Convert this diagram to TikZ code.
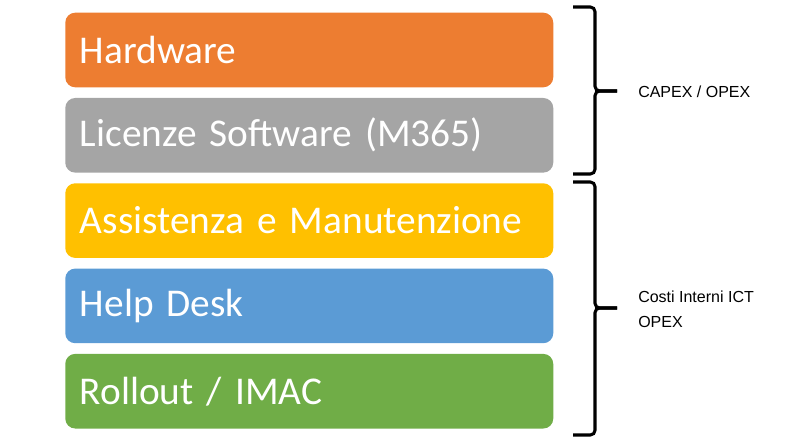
\documentclass[tikz,border=0pt]{standalone}
\usepackage{fontspec}
\setmainfont{Carlito}
\newfontfamily\labelfont{Liberation Sans}
\usepackage{tikz}

\definecolor{hwcol}{HTML}{ED7D31}
\definecolor{licol}{HTML}{A5A5A5}
\definecolor{ascol}{HTML}{FFC000}
\definecolor{hdcol}{HTML}{5B9BD5}
\definecolor{rocol}{HTML}{70AD47}

\tikzset{
    blok/.style={rounded corners=7.5pt, anchor=west, text=white,
        minimum height=56pt, text width=344pt, inner xsep=11pt,
        align=left, font=\fontsize{29.5}{34}\selectfont},
    klammer/.style={line width=2.3pt, rounded corners=3.5pt},
    etikett/.style={anchor=west, align=left, inner sep=0pt,
        font=\labelfont\fontsize{12}{18.5}\selectfont}
}

\begin{document}
\begin{tikzpicture}[x=0.75pt,y=-0.75pt]
        % Rahmen
        \useasboundingbox (0,0) rectangle (807,442);
    
        % Kostenblöcke
        \foreach \i/\nm/\col/\txt in {
            0/hw/hwcol/Hardware,
            1/li/licol/Licenze Software (M365),
            2/as/ascol/Assistenza e Manutenzione,
            3/hd/hdcol/Help Desk,
            4/ro/rocol/{Rollout / IMAC}}
        {
            \node[blok, fill=\col] (\nm) at (65,50+85.3*\i) {\txt};
        }
    
        % Klammern
        \draw[klammer] (573,7) -| (595,91) -- (617,91);
        \draw[klammer] (617,91) -- (595,91) |- (573,174);
        \draw[klammer] (573,182) -| (595,308) -- (617,308);
        \draw[klammer] (617,308) -- (595,308) |- (573,435);
    
        % Beschriftung
        \node[etikett] (capex) at (638,92) {CAPEX / OPEX};
        \node[etikett] (costi) at (638,309) {Costi Interni ICT\\OPEX};
    \end{tikzpicture}
\end{document}
